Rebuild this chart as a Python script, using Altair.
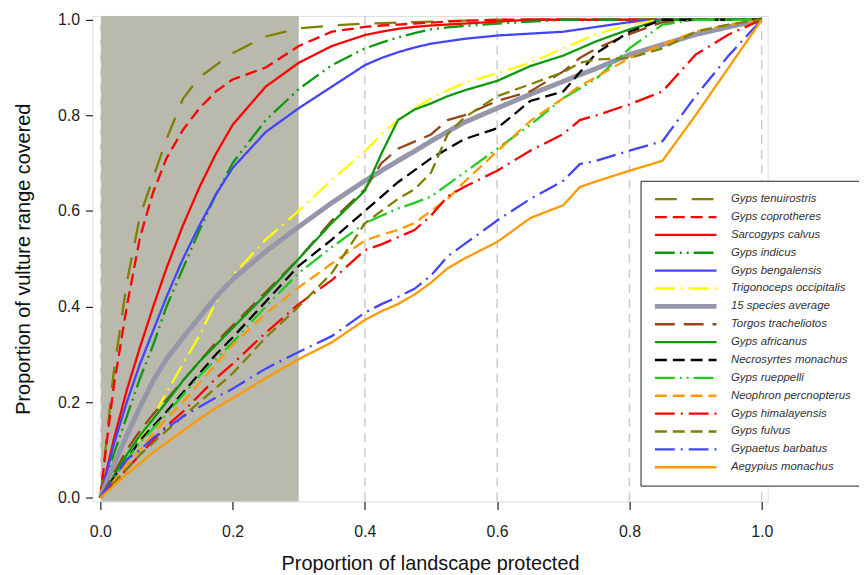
import altair as alt
import pandas as pd

# ---------------- data ----------------
X = [0, 0.01, 0.02, 0.04, 0.06, 0.08, 0.10, 0.125, 0.15, 0.175, 0.20, 0.25, 0.30,
     0.35, 0.40, 0.425, 0.45, 0.475, 0.50, 0.525, 0.55, 0.60, 0.65, 0.70, 0.725,
     0.75, 0.80, 0.85, 0.90, 0.95, 1.00]

TENUIROSTRIS = [0, .13, .26, .45, .59, .67, .75, .835, .88, .905, .93, .965, .982, .988,
                .992, .993, .994, .995, .996, .997, .998, 1, 1, 1, 1, 1, 1, 1, 1, 1, 1]
COPROTHERES = [0, .12, .23, .40, .545, .64, .71, .77, .815, .85, .875, .90, .945, .975,
               .985, .988, .99, .992, .994, .996, .998, 1, 1, 1, 1, 1, 1, 1, 1, 1, 1]
CALVUS = [0, .06, .12, .225, .315, .40, .48, .57, .65, .72, .78, .86, .91, .945, .968,
          .975, .981, .985, .988, .99, .992, .996, 1, 1, 1, 1, 1, 1, 1, 1, 1]
INDICUS = [0, .045, .09, .17, .25, .32, .40, .48, .56, .635, .70, .79, .855, .905, .94,
           .952, .963, .972, .98, .984, .987, .992, .996, 1, 1, 1, 1, 1, 1, 1, 1]
BENGALENSIS = [0, .055, .11, .20, .28, .35, .42, .50, .57, .635, .69, .765, .815, .86,
               .905, .92, .932, .942, .95, .955, .96, .967, .971, .975, .98, .985, .995,
               1, 1, 1, 1]
OCCIPITALIS = [0, .02, .04, .08, .125, .17, .22, .28, .34, .41, .465, .54, .60, .665,
               .725, .76, .79, .815, .835, .852, .868, .888, .91, .94, .955, .97, .99,
               1, 1, 1, 1]
AVERAGE = [0, .035, .068, .13, .19, .245, .29, .335, .378, .42, .457, .515, .567, .617,
           .663, .684, .705, .725, .746, .766, .785, .815, .844, .871, .885, .898, .927,
           .948, .969, .985, 1]
TRACHELIOTOS = [0, .025, .05, .10, .14, .175, .205, .245, .285, .325, .36, .43, .50, .58,
                .645, .70, .73, .745, .76, .79, .80, .83, .85, .892, .92, .94, .97, .995,
                1, 1, 1]
AFRICANUS = [0, .02, .045, .09, .13, .165, .20, .245, .285, .32, .355, .425, .50, .575,
             .642, .72, .79, .812, .825, .84, .852, .872, .903, .925, .94, .955, .98, 1,
             1, 1, 1]
NECROSYRTES = [0, .02, .04, .08, .12, .15, .18, .22, .26, .30, .335, .41, .485, .54, .60,
               .63, .66, .685, .71, .73, .75, .773, .83, .85, .89, .93, .975, 1, 1, 1, 1]
RUEPPELLI = [0, .02, .04, .08, .115, .145, .175, .215, .255, .29, .325, .40, .47, .524,
             .574, .59, .605, .617, .63, .655, .68, .73, .78, .836, .856, .877, .94, .99,
             1, 1, 1]
PERCNOPTERUS = [0, .015, .035, .07, .10, .135, .165, .20, .24, .28, .32, .385, .44, .49,
                .538, .55, .56, .575, .60, .625, .66, .725, .788, .836, .862, .88, .92,
                .948, .975, .99, 1]
HIMALAYENSIS = [0, .015, .03, .06, .09, .12, .15, .18, .215, .25, .28, .345, .405, .455,
                .518, .53, .545, .56, .59, .63, .65, .684, .726, .761, .79, .80, .823,
                .85, .927, .969, 1]
FULVUS = [0, .015, .03, .06, .09, .115, .14, .17, .20, .23, .26, .335, .40, .47, .574,
          .60, .625, .645, .68, .76, .795, .84, .865, .89, .91, .917, .92, .94, .975,
          .99, 1]
BARBATUS = [0, .02, .04, .08, .10, .125, .145, .17, .19, .21, .228, .27, .305, .338,
            .387, .405, .42, .437, .465, .505, .53, .58, .625, .663, .698, .705, .726,
            .746, .84, .925, 1]
AEGYPIUS = [0, .012, .025, .05, .072, .095, .115, .14, .165, .188, .208, .25, .29, .325,
            .372, .39, .405, .425, .45, .48, .50, .535, .585, .612, .65, .662, .684,
            .705, .80, .90, 1]

SPECIES = ["Gyps tenuirostris", "Gyps coprotheres", "Sarcogyps calvus", "Gyps indicus",
           "Gyps bengalensis", "Trigonoceps occipitalis", "15 species average",
           "Torgos tracheliotos", "Gyps africanus", "Necrosyrtes monachus",
           "Gyps rueppelli", "Neophron percnopterus", "Gyps himalayensis",
           "Gyps fulvus", "Gypaetus barbatus", "Aegypius monachus"]
SERIES = [TENUIROSTRIS, COPROTHERES, CALVUS, INDICUS, BENGALENSIS, OCCIPITALIS, AVERAGE,
          TRACHELIOTOS, AFRICANUS, NECROSYRTES, RUEPPELLI, PERCNOPTERUS, HIMALAYENSIS,
          FULVUS, BARBATUS, AEGYPIUS]

SHADE = [0.0, 0.3]
GRID_X = [0.4, 0.6, 0.8, 1.0]
ZERO_X = [0.0]
TICKS = [0.0, 0.2, 0.4, 0.6, 0.8, 1.0]

# ---------------- styles ----------------
OLIVE = "#7f7f00"
RED = "#ff0000"
GREEN = "#0c9a0c"
LGREEN = "#1fcc1f"
BLUE = "#4444ff"
ORANGE = "#ff9900"
COLORS = [OLIVE, RED, RED, GREEN, BLUE, "#ffff00", "#9696aa", "#94481a", GREEN,
          "#000000", LGREEN, ORANGE, RED, OLIVE, BLUE, ORANGE]
SOLID = [1, 0]
DASHES = [[22, 15], [12, 6], SOLID, [20, 5, 2, 5, 2, 5], SOLID, [20, 6, 2, 6], SOLID,
          [20, 9], SOLID, [12, 6], [20, 5, 2, 5, 2, 5], [12, 6], [20, 6, 2, 6],
          [12, 6], [20, 6, 2, 6], SOLID]
WIDTHS = [2.3, 2.3, 2.3, 2.3, 2.3, 2.3, 5, 2.3, 2.3, 2.3, 2.3, 2.3, 2.3, 2.3, 2.3, 2.3]

FONT = "Liberation Sans"

rows = []
for name, ys in zip(SPECIES, SERIES):
    for xv, yv in zip(X, ys):
        rows.append({"species": name, "x": xv, "y": yv})
df = pd.DataFrame(rows)

xs = alt.Scale(domain=[-0.012, 1.009], nice=False, zero=False)
ysc = alt.Scale(domain=[-0.008, 1.008], nice=False, zero=False)

xaxis = alt.Axis(title="Proportion of landscape protected", values=TICKS, format=".1f",
                 grid=False, domain=False, labelFlush=False, tickSize=8, tickWidth=1.2,
                 tickColor="#222222", labelPadding=14, titlePadding=14,
                 labelFontSize=16, titleFontSize=20, labelFont=FONT, titleFont=FONT,
                 labelColor="#222222", titleColor="#111111", titleFontWeight="normal")
yaxis = alt.Axis(title="Proportion of vulture range covered", values=TICKS, format=".1f",
                 grid=False, domain=False, labelFlush=False, tickSize=7, tickWidth=1.2,
                 tickColor="#222222", labelPadding=6, titlePadding=24,
                 labelFontSize=16, titleFontSize=20, labelFont=FONT, titleFont=FONT,
                 labelColor="#222222", titleColor="#111111", titleFontWeight="normal")

legend = alt.Legend(orient="none", legendX=552, legendY=166, title=None,
                    symbolType="stroke", symbolSize=3844, clipHeight=13,
                    rowPadding=5, padding=12, strokeColor="#222222",
                    fillColor="white", labelFontStyle="italic", labelFontSize=11.5,
                    labelFont=FONT, labelColor="#333333", labelOffset=12, labelLimit=0)

shade = alt.Chart(pd.DataFrame({"x0": [SHADE[0]], "x1": [SHADE[1]]})).mark_rect(
    color="#b9b9ae").encode(
    x=alt.X("x0:Q", scale=xs, axis=xaxis), x2="x1:Q")

grid = alt.Chart(pd.DataFrame({"g": GRID_X})).mark_rule(
    color="#cccccc", strokeDash=[9, 6], strokeWidth=1.5).encode(
    x=alt.X("g:Q", scale=xs, axis=xaxis))

zero = alt.Chart(pd.DataFrame({"g": ZERO_X})).mark_rule(
    color="#f2f2f2", strokeDash=[9, 6], strokeWidth=1.5).encode(
    x=alt.X("g:Q", scale=xs, axis=xaxis))

lines = alt.Chart(df).mark_line(clip=True).encode(
    x=alt.X("x:Q", scale=xs, axis=xaxis),
    y=alt.Y("y:Q", scale=ysc, axis=yaxis),
    color=alt.Color("species:N", scale=alt.Scale(domain=SPECIES, range=COLORS),
                    legend=legend),
    strokeDash=alt.StrokeDash("species:N", scale=alt.Scale(domain=SPECIES, range=DASHES),
                              legend=legend),
    strokeWidth=alt.StrokeWidth("species:N",
                                scale=alt.Scale(type="ordinal", domain=SPECIES,
                                                range=WIDTHS),
                                legend=legend),
)

chart = alt.layer(shade, grid, zero, lines).properties(
    width=680, height=489,
    padding={"left": 85, "top": 6, "right": 92, "bottom": 70},
    autosize=alt.AutoSizeParams(type="none"),
).configure_view(stroke="#222222", strokeWidth=1.5).configure(background="white")

chart.save("out.html", embed_options={"renderer": "svg", "actions": False})
